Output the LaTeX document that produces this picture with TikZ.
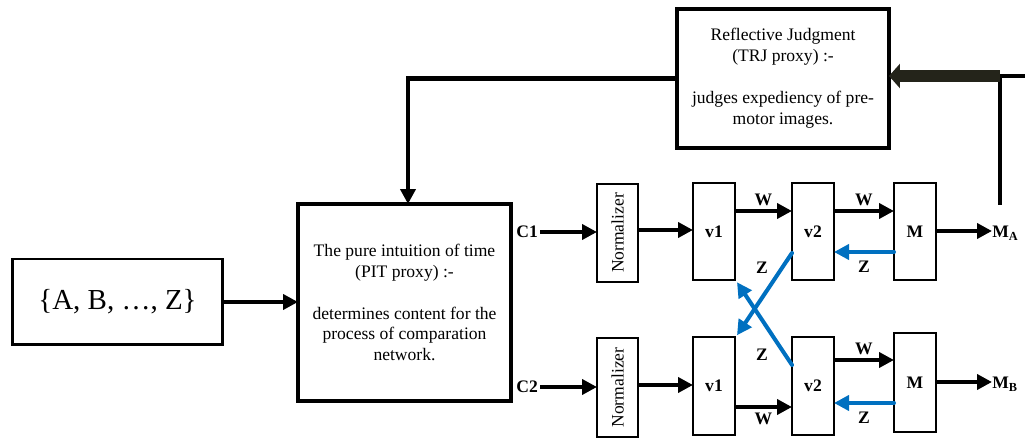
\documentclass[tikz,border=0pt]{standalone}
\usepackage{fontspec}
\setmainfont{Liberation Serif}
\usepackage{graphicx}
\usetikzlibrary{arrows.meta,calc}
\definecolor{zblue}{HTML}{0070C0}
\definecolor{darkbar}{RGB}{36,36,26}
\begin{document}
\begin{tikzpicture}[x=0.02cm,y=-0.02cm,
  cell/.style={draw,line width=1.1pt,inner sep=0pt,outer sep=0pt,minimum width=0.84cm,minimum height=1.95cm,font=\bfseries\fontsize{10}{12}\selectfont},
  normbox/.style={draw,line width=1.1pt,inner sep=0pt,outer sep=0pt,minimum width=0.82cm,minimum height=1.97cm,font=\fontsize{10}{12}\selectfont},
  bigbox/.style={draw,line width=2.4pt,inner sep=0pt,outer sep=0pt,align=center,font=\fontsize{10}{11.9}\selectfont},
  arr/.style={line width=2.3pt,-{Triangle[length=0.3cm,width=0.3cm]}},
  zarr/.style={line width=2.3pt,draw=zblue,line cap=round,-{Triangle[length=0.3cm,width=0.3cm]}},
  lbl/.style={font=\bfseries\fontsize{10}{12}\selectfont,inner sep=1pt}
]
\useasboundingbox (0,0) rectangle (1025,438);

% big boxes
\node[draw,line width=1.7pt,inner sep=0pt,outer sep=0pt,minimum width=4.22cm,minimum height=1.72cm,font=\fontsize{16.5}{19}\selectfont] (set) at (117.5,302) {\{A, B, \ldots, Z\}};
\node[bigbox,minimum width=4.26cm,minimum height=3.94cm] (pit) at (404.5,302.5)
  {The pure intuition of time\\(PIT proxy) :-\\[11.9pt]determines content for the\\process of comparation\\network.};
\node[bigbox,minimum width=4.24cm,minimum height=2.78cm] (trj) at (783,78.5)
  {Reflective Judgment\\(TRJ proxy) :-\\[11.9pt]judges expediency of pre-\\motor images.};

% upper row
\node[normbox] (n1) at (617.5,233) {\rotatebox{90}{Normalizer}};
\node[cell] (v1a) at (714,231.5) {v1};
\node[cell] (v2a) at (813,231.5) {v2};
\node[cell] (ma) at (915,231.5) {M};
% lower row
\node[normbox] (n2) at (617.5,387.5) {\rotatebox{90}{Normalizer}};
\node[cell] (v1b) at (714,386) {v1};
\node[cell] (v2b) at (813,386) {v2};
\node[cell,minimum height=1.98cm] (mb) at (915,382.5) {M};

% labels
\node[lbl,anchor=east] (c1) at (540,232) {C1};
\node[lbl,anchor=east] (c2) at (540,387) {C2};
\node[lbl,anchor=west,inner sep=0pt] (mao) at (992,233) {M\textsubscript{A}};
\node[lbl,anchor=west,inner sep=0pt] (mbo) at (992,384) {M\textsubscript{B}};

% level coordinates
\coordinate (ya1) at (0,232);
\coordinate (ya2) at (0,230);
\coordinate (wa) at (0,211);
\coordinate (za) at (0,252);
\coordinate (oa) at (0,231);
\coordinate (yb1) at (0,387);
\coordinate (yb2) at (0,385);
\coordinate (wb1) at (0,407);
\coordinate (wb2) at (0,360);
\coordinate (zb) at (0,403);
\coordinate (ob) at (0,382);

% input arrows
\draw[arr] (set.east) -- (pit.west |- set.east);
\draw[arr] (c1.east |- ya1) -- (n1.west |- ya1);
\draw[arr] (n1.east |- ya2) -- (v1a.west |- ya2);
\draw[arr] (c2.east |- yb1) -- (n2.west |- yb1);
\draw[arr] (n2.east |- yb2) -- (v1b.west |- yb2);

% W arrows
\draw[arr] (v1a.east |- wa) -- node[lbl,above=1pt] (w1) {W} (v2a.west |- wa);
\draw[arr] (v2a.east |- wa) -- node[lbl,above=1pt] (w2) {W} (ma.west |- wa);
\draw[arr] (v1b.east |- wb1) -- node[lbl,below=1pt] (w3) {W} (v2b.west |- wb1);
\draw[arr] (v2b.east |- wb2) -- node[lbl,above=1pt] (w4) {W} (mb.west |- wb2);

% outputs
\draw[arr] (ma.east |- oa) -- (mao.west |- oa);
\draw[arr] (mb.east |- ob) -- (mbo.west |- ob);

% Z arrows
\draw[zarr] (ma.west |- za) -- node[lbl,below=3pt] (z1) {Z} (v2a.east |- za);
\draw[zarr] (mb.west |- zb) -- node[lbl,below=3pt] (z2) {Z} (v2b.east |- zb);
\draw[zarr] ([yshift=-0.43cm]v2a.west) -- ([xshift=0.04cm,yshift=0.04cm]v1b.north east);
\draw[zarr] ([yshift=0.42cm]v2b.west) -- ([xshift=0.04cm,yshift=-0.04cm]v1a.south east);
\node[lbl] (z3) at (762,268) {Z};
\node[lbl] (z4) at (762,355) {Z};

% feedback
\draw[arr] (trj.west) -| ([xshift=0.07cm]pit.north);
\coordinate (fbtop) at (1000,76);
\coordinate (fbbot) at (1000,205);
\coordinate (fbright) at (1025,76);
\draw[line width=2.3pt] (fbbot) -- (fbtop) -- (fbright);
\draw[line width=6.5pt,draw=darkbar,-{Triangle[length=0.22cm,width=0.48cm]}] (fbtop) -- (trj.east |- fbtop);
\end{tikzpicture}
\end{document}
